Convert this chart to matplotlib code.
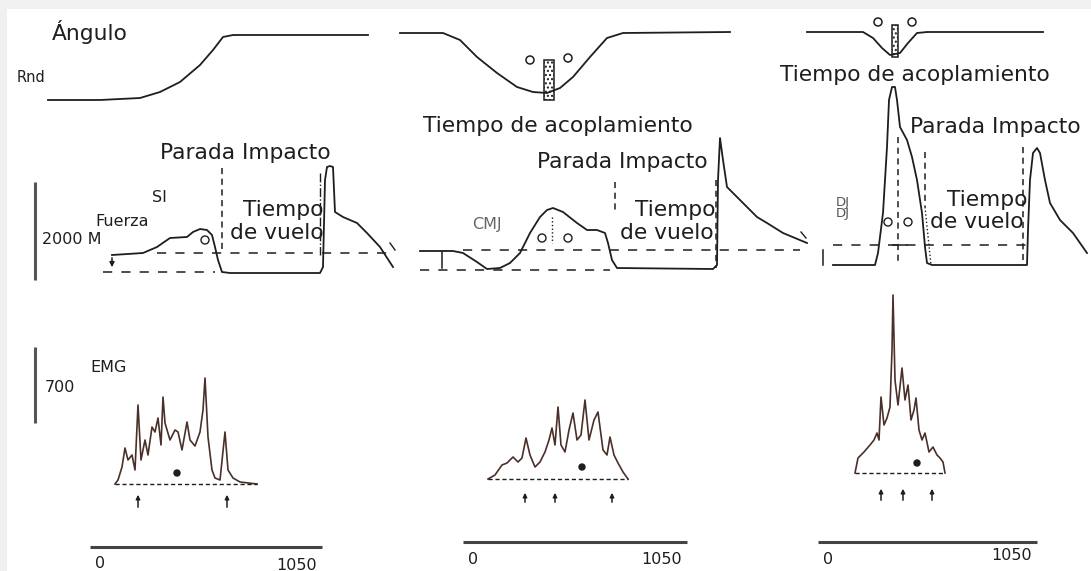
import matplotlib
matplotlib.use("Agg")
import matplotlib.pyplot as plt
from matplotlib.patches import Rectangle, Circle

# Drawing units are picture pixels (x right, y down).

# Angle traces (top row)
sj_angle_x = [48, 100, 140, 160, 180, 200, 213, 223, 233, 300, 368]
sj_angle_y = [100, 100, 98, 92, 82, 65, 50, 37, 35, 35, 35]
cmj_angle_x = [400, 443, 460, 477, 497, 517, 533, 547, 560, 573, 590, 607, 623, 730]
cmj_angle_y = [33, 33, 40, 57, 73, 87, 92, 93, 88, 77, 57, 38, 33, 32]
dj_angle_x = [807, 863, 873, 882, 890, 900, 908, 917, 927, 1043]
dj_angle_y = [32, 32, 38, 48, 55, 53, 43, 33, 32, 32]

# Force traces (middle row)
sj_force_x = [112, 143, 157, 170, 187, 193, 200, 207, 212, 215, 218, 222, 230, 320,
              323, 325, 327, 330, 333, 335, 343, 357, 367, 380, 393]
sj_force_y = [255, 253, 247, 238, 237, 232, 229, 230, 235, 247, 260, 272, 273, 273,
              267, 180, 167, 166, 167, 212, 217, 223, 233, 247, 267]
cmj_force_x = [420, 453, 463, 477, 487, 500, 510, 520, 530, 540, 547, 553, 563, 577,
               587, 597, 605, 608, 612, 617, 713, 717, 718, 720, 723, 727, 733, 743,
               757, 767, 783, 807]
cmj_force_y = [251, 251, 253, 262, 269, 268, 263, 253, 233, 217, 210, 208, 212, 223,
               230, 230, 233, 243, 260, 268, 269, 265, 180, 138, 160, 187, 193, 203,
               217, 223, 233, 243]
dj_force_x = [833, 875, 878, 883, 887, 889, 892, 895, 897, 900, 907, 912, 917, 922,
              925, 927, 932, 1027, 1028, 1030, 1033, 1037, 1040, 1045, 1050, 1060,
              1073, 1087]
dj_force_y = [265, 265, 253, 213, 147, 100, 87, 87, 100, 127, 140, 157, 180, 213,
              247, 263, 265, 265, 230, 180, 153, 148, 153, 180, 203, 220, 233, 253]

# EMG traces (bottom row)
emg_sj_x = [115, 118, 122, 125, 128, 132, 135, 138, 141, 145, 148, 152, 155, 158,
            161, 163, 165, 170, 175, 178, 182, 187, 190, 195, 200, 203, 205, 208,
            212, 215, 220, 225, 228, 233, 240, 257]
emg_sj_y = [484, 480, 467, 448, 460, 455, 470, 405, 460, 440, 455, 427, 432, 418,
            445, 397, 423, 440, 430, 432, 450, 422, 440, 446, 432, 410, 378, 437,
            470, 478, 480, 432, 470, 478, 482, 484]
emg_cmj_x = [488, 495, 502, 507, 513, 518, 522, 526, 530, 535, 540, 545, 549, 552,
             555, 558, 561, 565, 569, 573, 577, 581, 585, 589, 594, 598, 603, 607,
             610, 614, 618, 623, 628]
emg_cmj_y = [479, 475, 465, 463, 457, 462, 458, 438, 455, 467, 462, 452, 440, 428,
             445, 407, 445, 452, 430, 413, 440, 435, 400, 440, 420, 412, 450, 455,
             437, 455, 463, 472, 479]
emg_dj_x = [855, 858, 864, 870, 874, 877, 879, 881, 884, 887, 890, 892, 893, 895,
            898, 902, 905, 908, 911, 914, 916, 919, 922, 925, 929, 933, 937, 940,
            943, 945]
emg_dj_y = [473, 458, 452, 445, 440, 433, 440, 397, 425, 418, 407, 350, 295, 380,
            405, 368, 400, 385, 420, 410, 398, 430, 440, 433, 452, 447, 455, 458,
            462, 473]

# EMG event arrows (x positions)
sj_events = [138, 227]
cmj_events = [525, 555, 612]
dj_events = [881, 903, 932]

# Time axis labels
time_ticks = ["0", "1050"]

INK = "#1e1e1e"
EMG_INK = "#4a3028"
FS = 15.7
FS_SMALL = 11.5
LW = 1.3

fig = plt.figure(figsize=(10.91, 5.71), dpi=100, facecolor="#f0f0f0")
ax = fig.add_axes([0, 0, 1, 1])
ax.set_xlim(0, 1091)
ax.set_ylim(571, 0)
ax.axis("off")
ax.add_patch(Rectangle((7, 9), 1100, 570, facecolor="white", edgecolor="none", zorder=0))

# Angle curves
for xs, ys in [(sj_angle_x, sj_angle_y), (cmj_angle_x, cmj_angle_y), (dj_angle_x, dj_angle_y)]:
    ax.plot(xs, ys, color=INK, lw=LW)

# Coupling-time bars on the angle curves
ax.add_patch(Rectangle((544, 60), 10, 40, fill=False, edgecolor=INK, lw=1.1, hatch="...."))
ax.add_patch(Rectangle((892, 25), 6, 32, fill=False, edgecolor=INK, lw=1.1, hatch="...."))
for cx, cy in [(530, 60), (568, 58), (878, 22), (912, 22)]:
    ax.add_patch(Circle((cx, cy), 4, fill=False, edgecolor=INK, lw=1.1))

# Force curves
for xs, ys in [(sj_force_x, sj_force_y), (cmj_force_x, cmj_force_y), (dj_force_x, dj_force_y)]:
    ax.plot(xs, ys, color=INK, lw=LW)

# Reference dashed lines (body weight / zero)
dash = dict(color=INK, lw=1.1, ls=(0, (6, 6)))
ax.plot([157, 392], [253, 253], **dash)
ax.plot([103, 215], [272, 272], **dash)
ax.plot([463, 800], [250, 250], **dash)
ax.plot([420, 610], [270, 270], **dash)
ax.plot([833, 1027], [245, 245], **dash)

# Vertical event markers in the force row
vdash = dict(color=INK, lw=1.1, ls=(0, (4, 3)))
ax.plot([222, 222], [168, 253], **vdash)
ax.plot([320, 320], [173, 255], color=INK, lw=1.0, ls="-.")
ax.plot([615, 615], [182, 213], **vdash)
ax.plot([716, 716], [180, 268], **vdash)
ax.plot([898, 898], [137, 263], **vdash)
ax.plot([925, 925], [152, 207], **vdash)
ax.plot([925, 931], [207, 265], color=INK, lw=1.0, ls=":")
ax.plot([1023, 1023], [147, 265], **vdash)
ax.plot([552, 552], [217, 243], color=INK, lw=1.0, ls=":")
ax.plot([893, 907], [245, 245], color=INK, lw=1.1)

# Small offset ticks at the start of each force curve
ax.annotate("", xy=(112, 270), xytext=(112, 255),
            arrowprops=dict(arrowstyle="-|>", color=INK, lw=1.1, mutation_scale=7))
ax.plot([442, 442], [252, 268], color=INK, lw=1.1)
ax.plot([823, 823], [250, 265], color=INK, lw=1.1)
ax.plot([390, 395], [243, 250], color=INK, lw=1.0)
ax.plot([801, 806], [232, 238], color=INK, lw=1.0)

for cx, cy in [(205, 240), (542, 238), (568, 238), (888, 222), (908, 222)]:
    ax.add_patch(Circle((cx, cy), 4, fill=False, edgecolor=INK, lw=1.0))

# EMG traces
for xs, ys in [(emg_sj_x, emg_sj_y), (emg_cmj_x, emg_cmj_y), (emg_dj_x, emg_dj_y)]:
    ax.plot(xs, ys, color=EMG_INK, lw=1.2)
    ax.plot([xs[0], xs[-1]], [ys[0], ys[-1]], color=INK, lw=1.0, ls=(0, (3, 2)))
for cx, cy in [(177, 473), (582, 467), (917, 463)]:
    ax.add_patch(Circle((cx, cy), 3, color=INK))

for events, y0, y1 in [(sj_events, 510, 492), (cmj_events, 505, 490), (dj_events, 503, 486)]:
    for ex in events:
        ax.annotate("", xy=(ex, y1), xytext=(ex, y0),
                    arrowprops=dict(arrowstyle="-|>", color=INK, lw=1.1, mutation_scale=6))

# Scale bars
ax.plot([35, 35], [182, 280], color="#555555", lw=2.2, solid_capstyle="butt")
ax.plot([35, 35], [347, 423], color="#555555", lw=2.2, solid_capstyle="butt")

# Time axes
for x0, x1, y, ly, ly2 in [(90, 322, 547, 564, 565), (463, 687, 542, 560, 560),
                           (818, 1037, 542, 560, 555)]:
    ax.plot([x0, x1], [y, y], color="#444444", lw=2.2, solid_capstyle="butt")
    ax.text(x0 + 5, ly, time_ticks[0], fontsize=FS_SMALL, ha="left", va="center", color=INK)
    ax.text(x1 - 5, ly2, time_ticks[1], fontsize=FS_SMALL, ha="right", va="center", color=INK)

# Labels
ax.text(52, 32, "Ángulo", fontsize=FS, ha="left", va="center", color=INK)
ax.text(17, 77, "Rnd", fontsize=FS_SMALL - 1, ha="left", va="center", color=INK)
ax.text(152, 198, "SI", fontsize=FS_SMALL, ha="left", va="center", color=INK)
ax.text(95, 221, "Fuerza", fontsize=FS_SMALL, ha="left", va="center", color=INK)
ax.text(42, 239, "2000 M", fontsize=FS_SMALL, ha="left", va="center", color=INK)
ax.text(90, 368, "EMG", fontsize=FS_SMALL, ha="left", va="center", color=INK)
ax.text(45, 388, "700", fontsize=FS_SMALL, ha="left", va="center", color=INK)
ax.text(472, 225, "CMJ", fontsize=FS_SMALL, ha="left", va="center", color="#666666")
ax.text(836, 208, "DJ\nDJ", fontsize=FS_SMALL - 2, ha="left", va="center",
        color="#555555", linespacing=0.75)

ax.text(160, 153, "Parada Impacto", fontsize=FS, ha="left", va="center", color=INK)
ax.text(537, 162, "Parada Impacto", fontsize=FS, ha="left", va="center", color=INK)
ax.text(910, 127, "Parada Impacto", fontsize=FS, ha="left", va="center", color=INK)
ax.text(423, 126, "Tiempo de acoplamiento", fontsize=FS, ha="left", va="center", color=INK)
ax.text(780, 75, "Tiempo de acoplamiento", fontsize=FS, ha="left", va="center", color=INK)

for x, y in [(243, 210), (635, 210), (947, 200)]:
    ax.text(x, y, "Tiempo", fontsize=FS, ha="left", va="center", color=INK)
for x, y in [(230, 233), (620, 233), (930, 222)]:
    ax.text(x, y, "de vuelo", fontsize=FS, ha="left", va="center", color=INK)

fig.savefig("out.png", dpi=100, facecolor=fig.get_facecolor())
